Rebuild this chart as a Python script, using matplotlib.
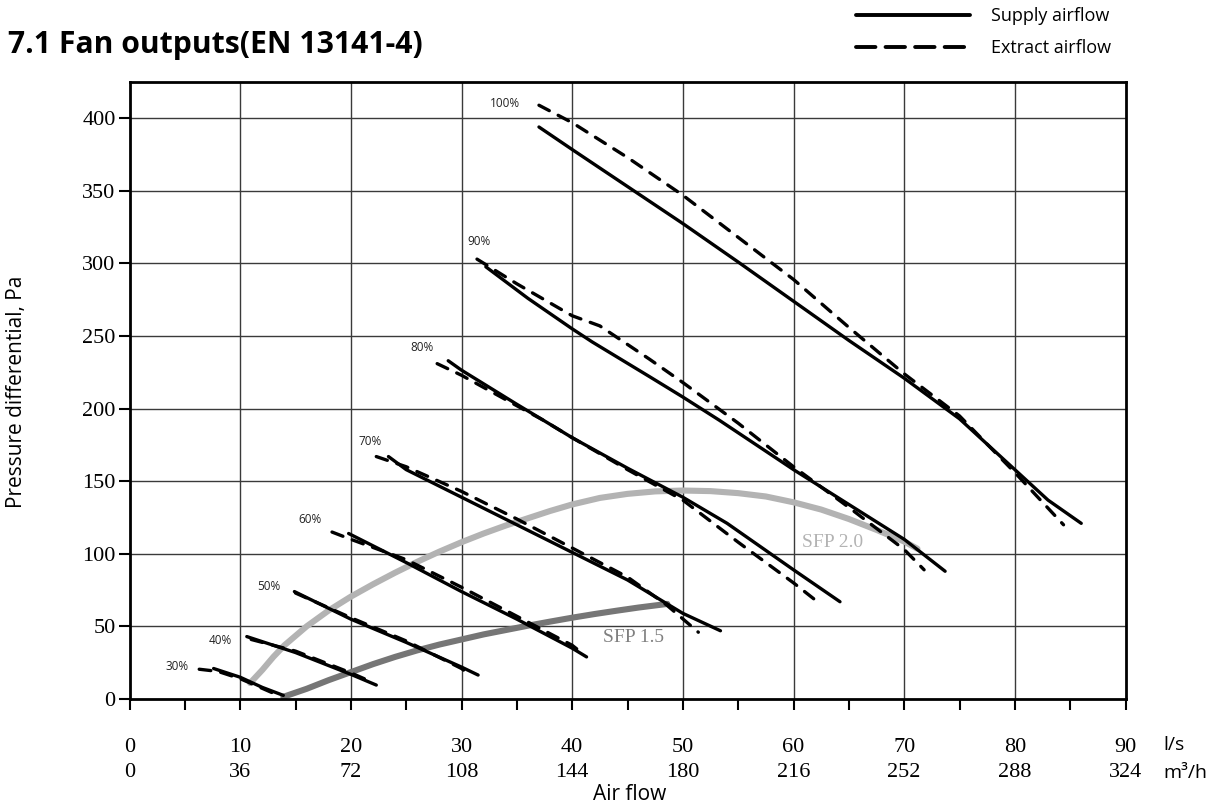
import matplotlib
matplotlib.use("Agg")
import matplotlib.pyplot as plt
from matplotlib.lines import Line2D

# ---------------- data ----------------
speed_labels = ["100%", "90%", "80%", "70%", "60%", "50%", "40%", "30%"]
label_x = [33.9, 31.6, 26.4, 21.7, 16.3, 12.6, 8.2, 4.3]
label_y = [410.5, 315, 242, 177.5, 123.5, 77.2, 40.5, 22.3]

# Supply airflow curves (l/s, Pa)
sup100_x = [37, 40, 45, 50, 55, 60, 65, 70, 75, 80, 83, 86]
sup100_y = [394, 378.5, 353, 327.5, 301, 274, 247, 221, 193, 158, 137, 121]
sup90_x = [32.2, 36, 40, 41.8, 47, 50, 53.3, 60, 65, 70, 73.7]
sup90_y = [297.7, 276, 255, 246, 222, 208, 192, 158, 134, 110, 88]
sup80_x = [28.8, 30, 35, 37.4, 40, 45, 50, 54, 60, 64.2]
sup80_y = [233, 226.5, 203, 192, 180, 159, 139, 121, 89, 67]
sup70_x = [23.4, 25, 30, 35, 40, 45, 50, 53.4]
sup70_y = [167, 158, 139, 120, 101, 82, 59, 47]
sup60_x = [19.8, 25, 30, 35, 40, 41.3]
sup60_y = [114, 94, 74, 55, 35, 29]
sup50_x = [14.9, 20, 25, 30, 31.5]
sup50_y = [74, 55, 39, 22, 16.5]
sup40_x = [10.6, 15, 20, 22.3]
sup40_y = [43, 32, 17, 9.6]
sup30_x = [7.6, 10, 12, 13.9]
sup30_y = [21, 15, 8, 2.5]

# Extract airflow curves (l/s, Pa)
ext100_x = [37, 40, 45, 50, 55, 60, 65, 70, 75, 80, 84.4]
ext100_y = [409, 397, 373, 347, 318, 289, 256, 224, 195, 156, 120]
ext90_x = [31.4, 35, 40, 42.5, 47, 50, 55, 60, 65, 70, 71.8]
ext90_y = [303, 286, 264, 257, 234, 218, 190, 160, 132, 103, 89]
ext80_x = [27.8, 30, 35, 37.4, 40, 45, 50, 55, 60, 62]
ext80_y = [231, 223, 202, 192, 180, 158, 137, 108, 80, 68]
ext70_x = [22.3, 25, 30, 35, 40, 45, 48.5, 51.4]
ext70_y = [167, 160, 143, 124, 104, 84, 65, 46]
ext60_x = [18.3, 20, 25, 30, 35, 40, 41]
ext60_y = [115, 110, 96, 77, 57, 37, 31]
ext50_x = [15, 20, 25, 30, 30.5]
ext50_y = [73, 56, 40, 21, 18]
ext40_x = [11, 15, 20, 21.5]
ext40_y = [41, 33, 18, 13]
ext30_x = [6.3, 8, 10, 13]
ext30_y = [20.5, 19, 14, 4]

# SFP curves
sfp20_x = [10.9, 12, 13, 14, 16, 18, 20, 22, 24, 26, 28, 30, 32, 34, 36, 38, 40, 42.5, 45,
           47.5, 50, 52.5, 55, 57.5, 60, 62.5, 65, 67.5, 70, 71.2]
sfp20_y = [11, 20, 29, 37, 50, 61, 70.5, 79, 87, 94.5, 101.5, 108, 114, 119.5, 124.5, 129.5, 134,
           138.5, 141.3, 143, 143.6, 143.2, 141.8, 139.5, 135.5, 130.5, 124, 116.5, 108.5, 103.5]
sfp15_x = [13.9, 16, 18, 20, 22, 24, 26, 28, 30, 32, 34, 36, 38, 40, 42, 44, 46, 48.6]
sfp15_y = [1.5, 7, 13, 18.5, 24, 29, 33.5, 37.5, 41, 44.5, 47.5, 50.5, 53.3, 56, 58.5, 60.8, 63, 65.5]

xticks_ls = [0, 10, 20, 30, 40, 50, 60, 70, 80, 90]
xticks_m3h = [0, 36, 72, 108, 144, 180, 216, 252, 288, 324]
yticks = [0, 50, 100, 150, 200, 250, 300, 350, 400]

supply = [(sup100_x, sup100_y), (sup90_x, sup90_y), (sup80_x, sup80_y), (sup70_x, sup70_y),
          (sup60_x, sup60_y), (sup50_x, sup50_y), (sup40_x, sup40_y), (sup30_x, sup30_y)]
extract = [(ext100_x, ext100_y), (ext90_x, ext90_y), (ext80_x, ext80_y), (ext70_x, ext70_y),
           (ext60_x, ext60_y), (ext50_x, ext50_y), (ext40_x, ext40_y), (ext30_x, ext30_y)]

# ---------------- figure ----------------
W, H = 1214, 809
fig = plt.figure(figsize=(W / 100, H / 100), dpi=100)
ax = fig.add_axes([129.5 / W, 1 - 699 / H, (1125.5 - 129.5) / W, (699 - 82) / H])

SANS = ["Open Sans", "DejaVu Sans"]
SERIF = ["Liberation Serif", "DejaVu Serif"]

ax.set_xlim(0, 90)
ax.set_ylim(0, 425)

# grid
for v in xticks_ls[1:-1]:
    ax.axvline(v, color="#3a3a3a", lw=1.0, zorder=1)
for v in yticks[1:]:
    ax.axhline(v, color="#3a3a3a", lw=1.0, zorder=1)

# SFP curves
ax.plot(sfp20_x, sfp20_y, color="#b3b3b3", lw=4.4, solid_capstyle="round",
        solid_joinstyle="round", zorder=2)
ax.plot(sfp15_x, sfp15_y, color="#767676", lw=4.4, solid_capstyle="round",
        solid_joinstyle="round", zorder=2)

# fan curves
for (xs, ys) in extract:
    ax.plot(xs, ys, color="black", lw=2.4, linestyle=(0, (3.5, 3.0)),
            dash_capstyle="round", solid_capstyle="round", zorder=3)
for (xs, ys) in supply:
    ax.plot(xs, ys, color="black", lw=2.4, solid_capstyle="round", zorder=3)

for t, x, y in zip(speed_labels, label_x, label_y):
    ax.text(x, y, t, fontsize=8.5, family=SANS, color="#222222", ha="center", va="center")

ax.text(63.5, 107.7, "SFP 2.0", fontsize=14, family=SERIF, color="#b3b3b3", ha="center", va="center")
ax.text(45.5, 42.2, "SFP 1.5", fontsize=14, family=SERIF, color="#808080", ha="center", va="center")

# axes styling
for s in ax.spines.values():
    s.set_linewidth(2.0)
    s.set_color("black")

ax.set_yticks(yticks)
ax.set_yticklabels([str(v) for v in yticks], family=SERIF, fontsize=16)
ax.set_xticks(xticks_ls)
ax.set_xticklabels([f"{a}\n{b}" for a, b in zip(xticks_ls, xticks_m3h)],
                   family=SERIF, fontsize=16, linespacing=1.45)
ax.set_xticks(list(range(5, 90, 10)), minor=True)
ax.tick_params(axis="y", which="major", direction="out", length=8, width=1.5, pad=2)
ax.tick_params(axis="x", which="both", direction="out", length=8, width=1.5, pad=20)

fig.text(1163 / W, 1 - 745 / H, "l/s", family=SANS, fontsize=14, va="center", ha="left")
fig.text(1163 / W, 1 - 773 / H, "m³/h", family=SANS, fontsize=14, va="center", ha="left")

fig.text(630 / W, 1 - 795 / H, "Air flow", family=SANS, fontsize=15, ha="center", va="center")
fig.text(17 / W, 1 - 392 / H, "Pressure differential, Pa", family=SANS, fontsize=15,
         rotation=90, ha="center", va="center")

fig.text(8 / W, 1 - 45 / H, "7.1 Fan outputs(EN 13141-4)", family=SANS, fontsize=21.7,
         fontweight="bold", ha="left", va="center")

handles = [Line2D([], [], color="black", lw=2.8, solid_capstyle="round"),
           Line2D([], [], color="black", lw=2.8, linestyle=(0, (5, 2.6)), dash_capstyle="round")]
fig.legend(handles, ["Supply airflow", "Extract airflow"], loc="upper left",
           bbox_to_anchor=(856 / W, 1 - 7 / H), frameon=False, prop={"family": SANS, "size": 13},
           handlelength=6.3, handletextpad=1.15, labelspacing=0.78, borderpad=0, borderaxespad=0)

fig.savefig("out.png", dpi=100)
